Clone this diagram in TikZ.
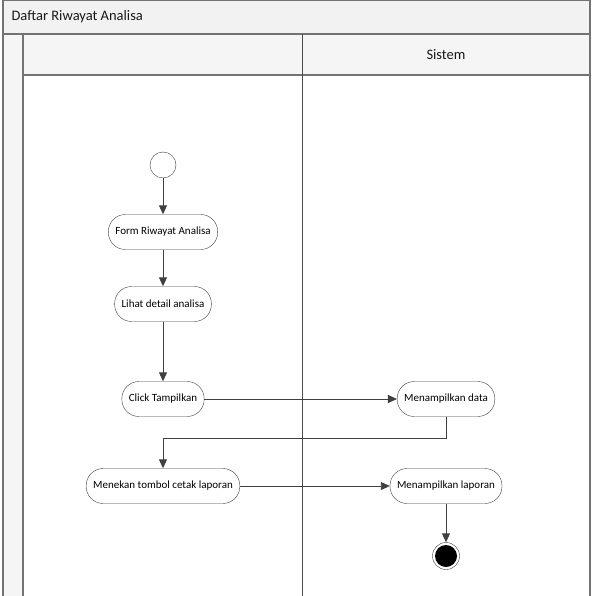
\documentclass[tikz,border=0pt]{standalone}
\usepackage{fontspec}
\setmainfont{Carlito}
\usetikzlibrary{arrows.meta,positioning}

\begin{document}
\begin{tikzpicture}[x=1pt, y=-1pt,
    act/.style={draw=black!75, fill=white, rounded corners=17pt, minimum height=35pt, inner xsep=7pt, font=\fontsize{11}{13}\selectfont},
    flow/.style={-{Triangle[length=9pt,width=8pt]}, draw=black!75, line width=0.9pt},
    frame/.style={draw=black!55, line width=1.3pt},
    head/.style={font=\fontsize{14.5}{17}\selectfont, text=black!90}
]
\useasboundingbox (0,0) rectangle (594,596);

% Swimlane frame
\fill[black!5] (3,0) rectangle (590,34);
\fill[black!4] (23,34) rectangle (590,75);
\fill[black!4] (3,34) rectangle (23,596);
\draw[frame] (3,0) -- (590,0);
\draw[frame] (3,0) -- (3,596);
\draw[frame] (590,0) -- (590,596);
\draw[frame] (3,34) -- (590,34);
\draw[frame] (23,34) -- (23,596);
\draw[frame] (23,75) -- (590,75);
\draw[frame, draw=black!70, line width=1pt] (302,34) -- (302,596);

% Titles
\node[head, anchor=west] (title) at (8,17) {Daftar Riwayat Analisa};
\node[head] (hsys) at (446,55) {Sistem};

% Start and end
\node[circle, draw=black!75, fill=white, minimum size=26pt, inner sep=0pt] (start) at (163,165) {};
\node[circle, draw=black!75, fill=white, minimum size=27pt, inner sep=0pt] (end) at (446,556) {};
\node[circle, fill=black, minimum size=22pt, inner sep=0pt] (endin) at (end) {};

% Activities
\node[act] (form) at (163,232) {Form Riwayat Analisa};
\node[act] (lihat) at (163,304) {Lihat detail analisa};
\node[act] (click) at (163,399) {Click Tampilkan};
\node[act] (data) at (446,399) {Menampilkan data};
\node[act] (cetak) at (163,486) {Menekan tombol cetak laporan};
\node[act] (lap) at (446,486) {Menampilkan laporan};

% Flow
\draw[flow] (start) -- (form);
\draw[flow] (form) -- (lihat);
\draw[flow] (lihat) -- (click);
\draw[flow] (click) -- (data);
\draw[flow] (data.south) -- ++(0,22) -| (cetak.north);
\draw[flow] (cetak) -- (lap);
\draw[flow] (lap) -- (end);
\end{tikzpicture}
\end{document}
